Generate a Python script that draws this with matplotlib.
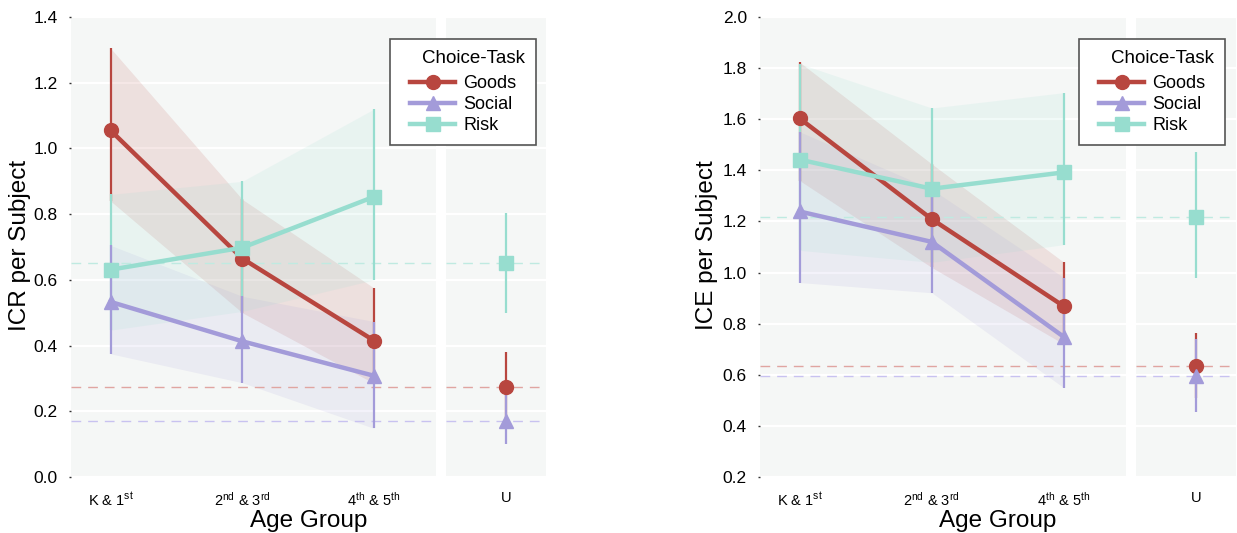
import matplotlib
matplotlib.use("Agg")
import matplotlib.pyplot as plt
from matplotlib.lines import Line2D

plt.rcParams["font.family"] = ["Liberation Sans", "DejaVu Sans"]
plt.rcParams["mathtext.default"] = "regular"

# ---- data ----
groups = ["K & 1$^{st}$", "2$^{nd}$ & 3$^{rd}$", "4$^{th}$ & 5$^{th}$"]
adult_label = "U"
tasks = ["Goods", "Social", "Risk"]

# ICR per subject (children: three age groups)
icr_goods = [1.055, 0.665, 0.415]
icr_goods_lo = [0.84, 0.50, 0.285]
icr_goods_hi = [1.305, 0.845, 0.575]
icr_social = [0.533, 0.413, 0.308]
icr_social_lo = [0.375, 0.287, 0.148]
icr_social_hi = [0.705, 0.55, 0.473]
icr_risk = [0.631, 0.698, 0.853]
icr_risk_lo = [0.447, 0.504, 0.60]
icr_risk_hi = [0.86, 0.90, 1.12]
# ICR per subject (adults): value, low, high
icr_u_goods = [0.274, 0.17, 0.38]
icr_u_social = [0.171, 0.101, 0.256]
icr_u_risk = [0.650, 0.499, 0.803]

# ICE per subject (children)
ice_goods = [1.603, 1.209, 0.868]
ice_goods_lo = [1.36, 1.02, 0.72]
ice_goods_hi = [1.823, 1.425, 1.04]
ice_social = [1.239, 1.12, 0.748]
ice_social_lo = [0.961, 0.921, 0.549]
ice_social_hi = [1.551, 1.326, 0.98]
ice_risk = [1.442, 1.328, 1.392]
ice_risk_lo = [1.087, 1.04, 1.109]
ice_risk_hi = [1.817, 1.644, 1.704]
# ICE per subject (adults)
ice_u_goods = [0.635, 0.51, 0.765]
ice_u_social = [0.596, 0.456, 0.741]
ice_u_risk = [1.219, 0.977, 1.472]

icr_yticks = [0.0, 0.2, 0.4, 0.6, 0.8, 1.0, 1.2, 1.4]
ice_yticks = [0.2, 0.4, 0.6, 0.8, 1.0, 1.2, 1.4, 1.6, 1.8, 2.0]

# ---- style ----
colors = {"Goods": "#b8463f", "Social": "#a39bd9", "Risk": "#97ddcf"}
ref_colors = {"Goods": "#e0a5a1", "Social": "#c8c2f0", "Risk": "#bfeae1"}
markers = {"Goods": "o", "Social": "^", "Risk": "s"}
bg = "#f5f7f6"
W, H = 1237, 533

fig = plt.figure(figsize=(W / 100, H / 100), dpi=100)


def frac(x0, x1, y0, y1):
    return [x0 / W, 1 - y1 / H, (x1 - x0) / W, (y1 - y0) / H]


def style_axes(ax, yticks, show_ylabels):
    ax.set_facecolor(bg)
    for s in ax.spines.values():
        s.set_visible(False)
    ax.set_ylim(yticks[0], yticks[-1])
    ax.set_yticks(yticks)
    ax.grid(axis="y", color="white", lw=1.6)
    ax.grid(axis="x", visible=False)
    ax.set_axisbelow(True)
    if show_ylabels:
        ax.tick_params(axis="y", length=1.5, width=1, color="#333333", pad=8,
                       labelsize=12.5)
    else:
        ax.tick_params(axis="y", length=0, labelleft=False)
    ax.tick_params(axis="x", length=0, pad=10, labelsize=10.5)


def draw_panel(main_rect, side_rect, series, adults, yticks, ylabel,
               ylabel_x, legend_anchor):
    ax = fig.add_axes(frac(*main_rect))
    axu = fig.add_axes(frac(*side_rect))
    style_axes(ax, yticks, True)
    style_axes(axu, yticks, False)
    x = list(range(len(groups)))

    # confidence bands
    for t in tasks:
        mean, lo, hi = series[t]
        ax.fill_between(x, lo, hi, color=colors[t], alpha=0.13, lw=0, zorder=1)

    # error bars
    for t in ["Goods", "Risk", "Social"]:
        mean, lo, hi = series[t]
        ax.vlines(x, lo, hi, color=colors[t], lw=1.6, zorder=2)
        um, ulo, uhi = adults[t]
        axu.vlines([0], [ulo], [uhi], color=colors[t], lw=1.6, zorder=2)

    # adult reference levels
    for t in tasks:
        um = adults[t][0]
        for a in (ax, axu):
            a.axhline(um, color=ref_colors[t], lw=1.0,
                      dashes=(7, 5), zorder=1.5)

    # means
    for t in tasks:
        mean = series[t][0]
        ax.plot(x, mean, color=colors[t], lw=3.2, marker=markers[t],
                ms=10, mec=colors[t], zorder=3)
        axu.plot([0], [adults[t][0]], color=colors[t], marker=markers[t],
                 ms=10, mec=colors[t], ls="none", zorder=3)

    ax.set_xlim(-0.30, 2.47)
    ax.set_xticks(x)
    ax.set_xticklabels(groups)
    axu.set_xlim(-0.456, 0.304)
    axu.set_xticks([0])
    axu.set_xticklabels([adult_label])

    fig.text(ylabel_x / W, 1 - 245 / H, ylabel, rotation=90, ha="center",
             va="center", fontsize=17.5)
    xc = (main_rect[0] + side_rect[1]) / 2
    fig.text(xc / W, 1 - 521 / H, "Age Group", ha="center", va="center",
             fontsize=17.5)

    handles = [Line2D([], [], color=colors[t], lw=3.2, marker=markers[t],
                      ms=10, mec=colors[t]) for t in tasks]
    leg = fig.legend(handles, tasks, title="    Choice-Task", loc="upper right",
                     bbox_to_anchor=(legend_anchor[0] / W, 1 - legend_anchor[1] / H),
                     bbox_transform=fig.transFigure, borderaxespad=0,
                     fontsize=13, title_fontsize=13.5, handlelength=2.5,
                     handletextpad=0.45, labelspacing=0.22, borderpad=0.6,
                     fancybox=False, framealpha=1, edgecolor="#555555")
    leg.get_frame().set_linewidth(1.2)
    leg._legend_box.sep = 6
    return ax, axu


icr_series = {
    "Goods": (icr_goods, icr_goods_lo, icr_goods_hi),
    "Social": (icr_social, icr_social_lo, icr_social_hi),
    "Risk": (icr_risk, icr_risk_lo, icr_risk_hi),
}
icr_adults = {"Goods": icr_u_goods, "Social": icr_u_social, "Risk": icr_u_risk}
ice_series = {
    "Goods": (ice_goods, ice_goods_lo, ice_goods_hi),
    "Social": (ice_social, ice_social_lo, ice_social_hi),
    "Risk": (ice_risk, ice_risk_lo, ice_risk_hi),
}
ice_adults = {"Goods": ice_u_goods, "Social": ice_u_social, "Risk": ice_u_risk}

draw_panel((71, 436, 17, 477), (446, 546, 17, 477), icr_series, icr_adults,
           icr_yticks, "ICR per Subject", 20, (536, 39))
draw_panel((760, 1126, 17, 477), (1136, 1236, 17, 477), ice_series, ice_adults,
           ice_yticks, "ICE per Subject", 707, (1225, 39))

fig.savefig("out.png", dpi=100, facecolor="white")
